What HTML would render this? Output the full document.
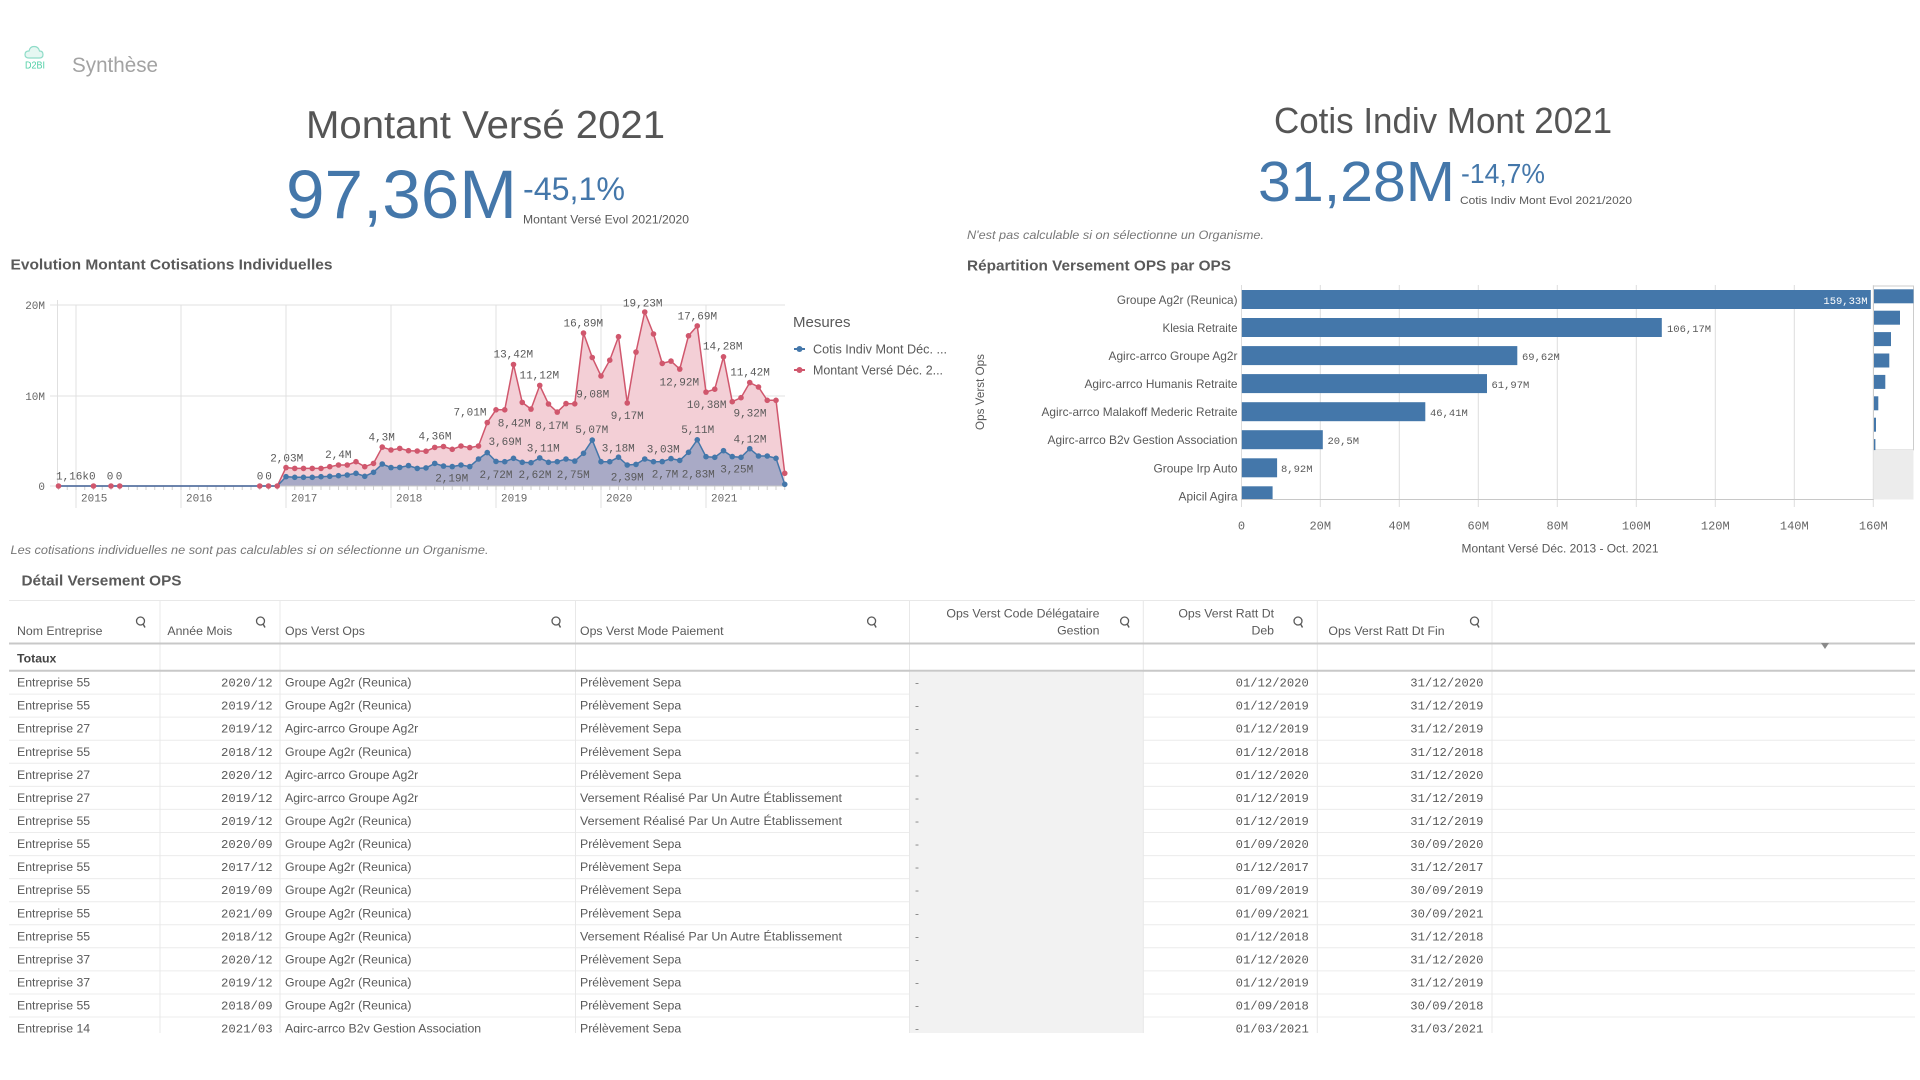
<!DOCTYPE html>
<html><head><meta charset="utf-8"><title>Synthèse</title><style>
html,body{margin:0;padding:0;background:#fff;width:1920px;height:1080px;overflow:hidden}
svg{display:block}
text{font-family:"Liberation Sans",sans-serif}
text.m,.m text{font-family:"Liberation Mono",monospace}
</style></head><body>
<svg width="1920" height="1080" viewBox="0 0 1920 1080" xmlns="http://www.w3.org/2000/svg">
<defs>
<marker id="rd" markerWidth="8" markerHeight="8" refX="4" refY="4" markerUnits="userSpaceOnUse"><circle cx="4" cy="4" r="2.8" fill="#d0576d"/></marker>
<marker id="bd" markerWidth="8" markerHeight="8" refX="4" refY="4" markerUnits="userSpaceOnUse"><circle cx="4" cy="4" r="2.8" fill="#4477aa"/></marker>
<pattern id="mt" x="58" y="0" width="8.75" height="1080" patternUnits="userSpaceOnUse"><rect x="0" y="0" width="1" height="1080" fill="#cfcfcf"/></pattern>
<clipPath id="tc"><rect x="0" y="595" width="1920" height="438"/></clipPath>
<g id="sq"><circle cx="0" cy="0" r="4" fill="none" stroke="#595959" stroke-width="1.3"/><line x1="2.6" y1="3" x2="4.5" y2="6.5" stroke="#595959" stroke-width="1.4"/></g>
</defs>

<!-- header -->
<path d="M29 58 q-4 0 -4 -3.5 q0 -3.5 4 -3.5 q1 -4.5 5 -4.5 q4.5 0 5.5 4.5 q3.5 0 3.5 3.5 q0 3.5 -3.5 3.5 z" fill="#e6f7f2" stroke="#8fdcc8" stroke-width="1.2"/>
<text x="25" y="68.5" font-size="10" fill="#4fcfa5" textLength="20" lengthAdjust="spacingAndGlyphs">D2BI</text>
<text x="72" y="72" font-size="21" fill="#a3a3a3" textLength="86" lengthAdjust="spacingAndGlyphs">Synthèse</text>

<!-- KPI left -->
<text x="306" y="138" font-size="39" fill="#555" textLength="359" lengthAdjust="spacingAndGlyphs">Montant Versé 2021</text>
<text x="286" y="218" font-size="69" fill="#4477aa" textLength="231" lengthAdjust="spacingAndGlyphs">97,36M</text>
<text x="523" y="200" font-size="32" fill="#4477aa" textLength="102" lengthAdjust="spacingAndGlyphs">-45,1%</text>
<text x="523" y="223.5" font-size="12" fill="#595959" textLength="166" lengthAdjust="spacingAndGlyphs">Montant Versé Evol 2021/2020</text>

<!-- KPI right -->
<text x="1274" y="133" font-size="36" fill="#555" textLength="338" lengthAdjust="spacingAndGlyphs">Cotis Indiv Mont 2021</text>
<text x="1258" y="201" font-size="57" fill="#4477aa" textLength="197" lengthAdjust="spacingAndGlyphs">31,28M</text>
<text x="1461" y="183" font-size="28" fill="#4477aa" textLength="84" lengthAdjust="spacingAndGlyphs">-14,7%</text>
<text x="1460" y="204" font-size="11" fill="#595959" textLength="172" lengthAdjust="spacingAndGlyphs">Cotis Indiv Mont Evol 2021/2020</text>
<text x="967" y="239" font-size="12" font-style="italic" fill="#777" textLength="297" lengthAdjust="spacingAndGlyphs">N'est pas calculable si on sélectionne un Organisme.</text>

<!-- chart titles -->
<text x="10.5" y="269.5" font-size="15" font-weight="bold" fill="#595959" textLength="322" lengthAdjust="spacingAndGlyphs">Evolution Montant Cotisations Individuelles</text>
<text x="967" y="270.5" font-size="15" font-weight="bold" fill="#595959" textLength="264" lengthAdjust="spacingAndGlyphs">Répartition Versement OPS par OPS</text>

<!-- ===== line chart ===== -->
<g stroke="#e0e0e0" stroke-width="1">
<line x1="57" y1="305" x2="785" y2="305"/>
<line x1="57" y1="396" x2="785" y2="396"/>
<line x1="76" y1="305" x2="76" y2="508"/>
<line x1="181" y1="305" x2="181" y2="508"/>
<line x1="286" y1="305" x2="286" y2="508"/>
<line x1="391" y1="305" x2="391" y2="508"/>
<line x1="496" y1="305" x2="496" y2="508"/>
<line x1="601" y1="305" x2="601" y2="508"/>
<line x1="706" y1="305" x2="706" y2="508"/>
<line x1="57.5" y1="300" x2="57.5" y2="486"/>
<line x1="50" y1="305" x2="57" y2="305"/>
<line x1="50" y1="396" x2="57" y2="396"/>
<line x1="50" y1="486" x2="57" y2="486"/>
</g>
<rect x="58" y="486" width="728" height="4" fill="url(#mt)"/>

<polygon fill="#f3cfd6" points="58.5,486 277.25,486 286,467.6 294.75,468.4 303.5,468.4 312.25,468.4 321,468.4 329.75,466.7 338.5,465 347.25,465 356,461.7 364.75,466.7 373.5,463.4 382.25,447.1 391,450 399.75,448.4 408.5,450.7 417.25,451 426,451.2 434.75,447.4 443.5,446.5 452.25,449.3 461,446 469.75,447.6 478.5,446 487.25,422.6 496,409.8 504.75,409.8 513.5,364.5 522.25,402.4 531,409.1 539.75,385.4 548.5,404 557.25,412.1 566,403.6 574.75,403.8 583.5,333.1 592.25,357.5 601,376 609.75,360.2 618.5,336.7 627.25,403 636,352.1 644.75,312 653.5,334 662.25,363.4 671,361.1 679.75,369.1 688.5,335.8 697.25,325.9 706,392.1 714.75,389.2 723.5,356.8 732.25,401.7 741,397.7 749.75,382.6 758.5,387 767.25,400.3 776,400.3 784.75,473.3 784.75,486"/>
<polygon fill="#a9aac6" points="277.25,486 286,476.7 294.75,477.3 303.5,477.3 312.25,477.3 321,476.7 329.75,476.3 338.5,475.7 347.25,475 356,473.3 364.75,476.3 373.5,472.3 382.25,464 391,467.6 399.75,467.4 408.5,465.6 417.25,468.4 426,467.9 434.75,463.4 443.5,466.1 452.25,466.6 461,465 469.75,466.6 478.5,459 487.25,452.6 496,461.4 504.75,461.7 513.5,458.3 522.25,462.3 531,462.7 539.75,457.9 548.5,462.3 557.25,461.7 566,459 574.75,461.1 583.5,453.3 592.25,440.1 601,461.7 609.75,461.7 618.5,457.2 627.25,465 636,464.4 644.75,459 653.5,461.7 662.25,461.6 671,458.6 679.75,460.4 688.5,452.3 697.25,439.8 706,456.7 714.75,457.3 723.5,450.7 732.25,456.6 741,457.3 749.75,448.7 758.5,456 767.25,456 776,458.3 784.75,484.3 784.75,486"/>
<line x1="57" y1="486" x2="785" y2="486" stroke="#c8c8c8" stroke-width="1"/>

<polyline fill="none" stroke="#d0576d" stroke-width="1.5" points="58.5,486 277.25,486 286,467.6 294.75,468.4 303.5,468.4 312.25,468.4 321,468.4 329.75,466.7 338.5,465 347.25,465 356,461.7 364.75,466.7 373.5,463.4 382.25,447.1 391,450 399.75,448.4 408.5,450.7 417.25,451 426,451.2 434.75,447.4 443.5,446.5 452.25,449.3 461,446 469.75,447.6 478.5,446 487.25,422.6 496,409.8 504.75,409.8 513.5,364.5 522.25,402.4 531,409.1 539.75,385.4 548.5,404 557.25,412.1 566,403.6 574.75,403.8 583.5,333.1 592.25,357.5 601,376 609.75,360.2 618.5,336.7 627.25,403 636,352.1 644.75,312 653.5,334 662.25,363.4 671,361.1 679.75,369.1 688.5,335.8 697.25,325.9 706,392.1 714.75,389.2 723.5,356.8 732.25,401.7 741,397.7 749.75,382.6 758.5,387 767.25,400.3 776,400.3 784.75,473.3"/>
<polyline fill="none" stroke="#4477aa" stroke-width="1.5" points="58.5,486 277.25,486 286,476.7 294.75,477.3 303.5,477.3 312.25,477.3 321,476.7 329.75,476.3 338.5,475.7 347.25,475 356,473.3 364.75,476.3 373.5,472.3 382.25,464 391,467.6 399.75,467.4 408.5,465.6 417.25,468.4 426,467.9 434.75,463.4 443.5,466.1 452.25,466.6 461,465 469.75,466.6 478.5,459 487.25,452.6 496,461.4 504.75,461.7 513.5,458.3 522.25,462.3 531,462.7 539.75,457.9 548.5,462.3 557.25,461.7 566,459 574.75,461.1 583.5,453.3 592.25,440.1 601,461.7 609.75,461.7 618.5,457.2 627.25,465 636,464.4 644.75,459 653.5,461.7 662.25,461.6 671,458.6 679.75,460.4 688.5,452.3 697.25,439.8 706,456.7 714.75,457.3 723.5,450.7 732.25,456.6 741,457.3 749.75,448.7 758.5,456 767.25,456 776,458.3 784.75,484.3"/>
<polyline fill="none" stroke="none" marker-start="url(#rd)" marker-mid="url(#rd)" marker-end="url(#rd)" points="58.5,486 93.5,486 111,486 119.75,486 259.75,486 268.5,486 277.25,486 286,467.6 294.75,468.4 303.5,468.4 312.25,468.4 321,468.4 329.75,466.7 338.5,465 347.25,465 356,461.7 364.75,466.7 373.5,463.4 382.25,447.1 391,450 399.75,448.4 408.5,450.7 417.25,451 426,451.2 434.75,447.4 443.5,446.5 452.25,449.3 461,446 469.75,447.6 478.5,446 487.25,422.6 496,409.8 504.75,409.8 513.5,364.5 522.25,402.4 531,409.1 539.75,385.4 548.5,404 557.25,412.1 566,403.6 574.75,403.8 583.5,333.1 592.25,357.5 601,376 609.75,360.2 618.5,336.7 627.25,403 636,352.1 644.75,312 653.5,334 662.25,363.4 671,361.1 679.75,369.1 688.5,335.8 697.25,325.9 706,392.1 714.75,389.2 723.5,356.8 732.25,401.7 741,397.7 749.75,382.6 758.5,387 767.25,400.3 776,400.3 784.75,473.3"/>
<polyline fill="none" stroke="none" marker-start="url(#bd)" marker-mid="url(#bd)" marker-end="url(#bd)" points="286,476.7 294.75,477.3 303.5,477.3 312.25,477.3 321,476.7 329.75,476.3 338.5,475.7 347.25,475 356,473.3 364.75,476.3 373.5,472.3 382.25,464 391,467.6 399.75,467.4 408.5,465.6 417.25,468.4 426,467.9 434.75,463.4 443.5,466.1 452.25,466.6 461,465 469.75,466.6 478.5,459 487.25,452.6 496,461.4 504.75,461.7 513.5,458.3 522.25,462.3 531,462.7 539.75,457.9 548.5,462.3 557.25,461.7 566,459 574.75,461.1 583.5,453.3 592.25,440.1 601,461.7 609.75,461.7 618.5,457.2 627.25,465 636,464.4 644.75,459 653.5,461.7 662.25,461.6 671,458.6 679.75,460.4 688.5,452.3 697.25,439.8 706,456.7 714.75,457.3 723.5,450.7 732.25,456.6 741,457.3 749.75,448.7 758.5,456 767.25,456 776,458.3 784.75,484.3"/>

<!-- axis labels -->
<g class="m" font-size="11" fill="#666" text-anchor="end">
<text x="45" y="309">20M</text>
<text x="45" y="400">10M</text>
<text x="45" y="490">0</text>
</g>
<g class="m" font-size="11" fill="#666">
<text x="81" y="501.5">2015</text>
<text x="186" y="501.5">2016</text>
<text x="291" y="501.5">2017</text>
<text x="396" y="501.5">2018</text>
<text x="501" y="501.5">2019</text>
<text x="606" y="501.5">2020</text>
<text x="711" y="501.5">2021</text>
</g>

<!-- data labels -->
<g class="m" font-size="11" fill="#595959" text-anchor="middle">
<text x="72.5" y="479.7">1,16k</text>
<text x="92.3" y="479.7">0</text>
<text x="110" y="479.7">0</text>
<text x="119" y="479.7">0</text>
<text x="260" y="479.7">0</text>
<text x="268.5" y="479.7">0</text>
<text x="286.7" y="461.3">2,03M</text>
<text x="338.3" y="458">2,4M</text>
<text x="381.7" y="440.7">4,3M</text>
<text x="435" y="439.7">4,36M</text>
<text x="470" y="415.7">7,01M</text>
<text x="513.3" y="357.3">13,42M</text>
<text x="539.3" y="378.3">11,12M</text>
<text x="514.3" y="426.3">8,42M</text>
<text x="551.7" y="429">8,17M</text>
<text x="505" y="445">3,69M</text>
<text x="543.3" y="451.7">3,11M</text>
<text x="583.3" y="326.3">16,89M</text>
<text x="592.7" y="397.3">9,08M</text>
<text x="591.7" y="433">5,07M</text>
<text x="642.7" y="306.3">19,23M</text>
<text x="697.3" y="319.7">17,69M</text>
<text x="722.7" y="349.7">14,28M</text>
<text x="750" y="375.7">11,42M</text>
<text x="679.3" y="385.7">12,92M</text>
<text x="706.7" y="408">10,38M</text>
<text x="750" y="416.3">9,32M</text>
<text x="627.3" y="419">9,17M</text>
<text x="618.3" y="451.3">3,18M</text>
<text x="663.3" y="452.3">3,03M</text>
<text x="697.7" y="433">5,11M</text>
<text x="750" y="442.3">4,12M</text>
<text x="451.7" y="481.7">2,19M</text>
<text x="496" y="478">2,72M</text>
<text x="535" y="478">2,62M</text>
<text x="573.3" y="478">2,75M</text>
<text x="627.3" y="480.7">2,39M</text>
<text x="665" y="477.3">2,7M</text>
<text x="698.3" y="477.3">2,83M</text>
<text x="736.7" y="472.3">3,25M</text>
</g>

<!-- legend -->
<text x="793" y="327" font-size="15" fill="#595959">Mesures</text>
<line x1="794" y1="349" x2="805" y2="349" stroke="#4477aa" stroke-width="2"/><circle cx="799.5" cy="349" r="3" fill="#4477aa"/>
<text x="813" y="353.5" font-size="12.5" fill="#595959" textLength="134" lengthAdjust="spacingAndGlyphs">Cotis Indiv Mont Déc. ...</text>
<line x1="794" y1="370" x2="805" y2="370" stroke="#d0576d" stroke-width="2"/><circle cx="799.5" cy="370" r="3" fill="#d0576d"/>
<text x="813" y="374.5" font-size="12.5" fill="#595959" textLength="130" lengthAdjust="spacingAndGlyphs">Montant Versé Déc. 2...</text>

<text x="10.5" y="554" font-size="12" font-style="italic" fill="#777" textLength="478" lengthAdjust="spacingAndGlyphs">Les cotisations individuelles ne sont pas calculables si on sélectionne un Organisme.</text>

<!-- ===== bar chart ===== -->
<g stroke="#dddddd" stroke-width="1">
<line x1="1241.5" y1="285" x2="1241.5" y2="507"/>
<line x1="1320.3" y1="285" x2="1320.3" y2="507"/>
<line x1="1399.3" y1="285" x2="1399.3" y2="507"/>
<line x1="1478.3" y1="285" x2="1478.3" y2="507"/>
<line x1="1557.3" y1="285" x2="1557.3" y2="507"/>
<line x1="1636.3" y1="285" x2="1636.3" y2="507"/>
<line x1="1715.3" y1="285" x2="1715.3" y2="507"/>
<line x1="1794.3" y1="285" x2="1794.3" y2="507"/>
<line x1="1873.3" y1="285" x2="1873.3" y2="507"/>
</g>
<g fill="#4477aa">
<rect x="1241.8" y="290" width="629" height="19"/>
<rect x="1241.8" y="318" width="420" height="19"/>
<rect x="1241.8" y="346.1" width="275.5" height="19"/>
<rect x="1241.8" y="374.1" width="245.2" height="19"/>
<rect x="1241.8" y="402.2" width="183.5" height="19"/>
<rect x="1241.8" y="430.2" width="81" height="19"/>
<rect x="1241.8" y="458.3" width="35.3" height="19"/>
<rect x="1241.8" y="486.3" width="30.8" height="13"/>
</g>
<line x1="1241" y1="499.5" x2="1874" y2="499.5" stroke="#c8c8c8"/>
<g font-size="12" fill="#595959" text-anchor="end">
<text x="1237.5" y="304" textLength="120.6" lengthAdjust="spacingAndGlyphs">Groupe Ag2r (Reunica)</text>
<text x="1237.5" y="332" textLength="75" lengthAdjust="spacingAndGlyphs">Klesia Retraite</text>
<text x="1237.5" y="360.1" textLength="129" lengthAdjust="spacingAndGlyphs">Agirc-arrco Groupe Ag2r</text>
<text x="1237.5" y="388.1" textLength="153" lengthAdjust="spacingAndGlyphs">Agirc-arrco Humanis Retraite</text>
<text x="1237.5" y="416.2" textLength="196" lengthAdjust="spacingAndGlyphs">Agirc-arrco Malakoff Mederic Retraite</text>
<text x="1237.5" y="444.2" textLength="190" lengthAdjust="spacingAndGlyphs">Agirc-arrco B2v Gestion Association</text>
<text x="1237.5" y="472.3" textLength="84" lengthAdjust="spacingAndGlyphs">Groupe Irp Auto</text>
<text x="1237.5" y="500.3" textLength="59" lengthAdjust="spacingAndGlyphs">Apicil Agira</text>
</g>
<text class="m" x="1867.5" y="303.8" font-size="10.5" fill="#ffffff" text-anchor="end">159,33M</text>
<g class="m" font-size="10.5" fill="#595959">
<text x="1667" y="331.8">106,17M</text>
<text x="1522" y="359.9">69,62M</text>
<text x="1491.5" y="387.9">61,97M</text>
<text x="1430" y="416">46,41M</text>
<text x="1327.5" y="444">20,5M</text>
<text x="1281" y="472.1">8,92M</text>
</g>
<g class="m" font-size="12" fill="#666" text-anchor="middle">
<text x="1241.5" y="529.5">0</text>
<text x="1320.3" y="529.5">20M</text>
<text x="1399.3" y="529.5">40M</text>
<text x="1478.3" y="529.5">60M</text>
<text x="1557.3" y="529.5">80M</text>
<text x="1636.3" y="529.5">100M</text>
<text x="1715.3" y="529.5">120M</text>
<text x="1794.3" y="529.5">140M</text>
<text x="1873.3" y="529.5">160M</text>
</g>
<text x="1560" y="552.5" font-size="12" fill="#595959" text-anchor="middle" textLength="197" lengthAdjust="spacingAndGlyphs">Montant Versé Déc. 2013 - Oct. 2021</text>
<text transform="translate(984,392) rotate(-90)" font-size="12" fill="#595959" text-anchor="middle" textLength="76" lengthAdjust="spacingAndGlyphs">Ops Verst Ops</text>

<!-- mini scrollbar -->
<rect x="1873.5" y="286" width="40" height="164" fill="#fff" stroke="#cccccc"/>
<rect x="1873.5" y="450" width="40" height="49.5" fill="#ececec"/>
<g fill="#4477aa">
<rect x="1874" y="289.3" width="39.5" height="14"/>
<rect x="1874" y="310.7" width="26" height="14"/>
<rect x="1874" y="332.1" width="17" height="14"/>
<rect x="1874" y="353.5" width="15.3" height="14"/>
<rect x="1874" y="374.9" width="11.3" height="14"/>
<rect x="1874" y="396.3" width="4.3" height="14"/>
<rect x="1874" y="417.7" width="2" height="14"/>
<rect x="1874" y="439.1" width="1.4" height="11"/>
</g>

<!-- ===== table ===== -->
<text x="21.5" y="585.5" font-size="15" font-weight="bold" fill="#595959" textLength="160" lengthAdjust="spacingAndGlyphs">Détail Versement OPS</text>
<g clip-path="url(#tc)">
<line x1="9" y1="600.5" x2="1915" y2="600.5" stroke="#e8e8e8"/>
<g stroke="#ececec" stroke-width="1">
<line x1="9" y1="694.1" x2="1915" y2="694.1"/>
<line x1="9" y1="717.1" x2="1915" y2="717.1"/>
<line x1="9" y1="740.2" x2="1915" y2="740.2"/>
<line x1="9" y1="763.3" x2="1915" y2="763.3"/>
<line x1="9" y1="786.4" x2="1915" y2="786.4"/>
<line x1="9" y1="809.4" x2="1915" y2="809.4"/>
<line x1="9" y1="832.5" x2="1915" y2="832.5"/>
<line x1="9" y1="855.6" x2="1915" y2="855.6"/>
<line x1="9" y1="878.6" x2="1915" y2="878.6"/>
<line x1="9" y1="901.7" x2="1915" y2="901.7"/>
<line x1="9" y1="924.8" x2="1915" y2="924.8"/>
<line x1="9" y1="947.8" x2="1915" y2="947.8"/>
<line x1="9" y1="970.9" x2="1915" y2="970.9"/>
<line x1="9" y1="994" x2="1915" y2="994"/>
<line x1="9" y1="1017" x2="1915" y2="1017"/>
</g>
<rect x="909.5" y="672" width="233.8" height="361" fill="#f2f2f2"/>
<g stroke="#e8e8e8" stroke-width="1">
<line x1="160" y1="600" x2="160" y2="1033"/>
<line x1="280" y1="600" x2="280" y2="1033"/>
<line x1="575.5" y1="600" x2="575.5" y2="1033"/>
<line x1="909.5" y1="600" x2="909.5" y2="1033"/>
<line x1="1143.3" y1="600" x2="1143.3" y2="1033"/>
<line x1="1317.3" y1="600" x2="1317.3" y2="1033"/>
<line x1="1492" y1="600" x2="1492" y2="1033"/>
</g>
<line x1="9" y1="643.5" x2="1915" y2="643.5" stroke="#c8c8c8" stroke-width="2"/>
<line x1="9" y1="670.7" x2="1915" y2="670.7" stroke="#c8c8c8" stroke-width="2"/>

<!-- header -->
<g font-size="12.3" fill="#595959">
<text x="17" y="635">Nom Entreprise</text>
<text x="167.4" y="635">Année Mois</text>
<text x="285" y="635">Ops Verst Ops</text>
<text x="580" y="635">Ops Verst Mode Paiement</text>
<text x="1099.5" y="617.5" text-anchor="end">Ops Verst Code Délégataire</text>
<text x="1099.5" y="634.5" text-anchor="end">Gestion</text>
<text x="1274" y="617.5" text-anchor="end">Ops Verst Ratt Dt</text>
<text x="1274" y="634.5" text-anchor="end">Deb</text>
<text x="1328.4" y="635">Ops Verst Ratt Dt Fin</text>
</g>
<use href="#sq" x="140.5" y="621"/>
<use href="#sq" x="260.5" y="621"/>
<use href="#sq" x="556" y="621"/>
<use href="#sq" x="871.6" y="621"/>
<use href="#sq" x="1124.6" y="621"/>
<use href="#sq" x="1298" y="621"/>
<use href="#sq" x="1474.5" y="621"/>
<polygon points="1821,643 1829,643 1825,649" fill="#8a8a8a"/>
<text x="17" y="662.5" font-size="12.3" font-weight="bold" fill="#444">Totaux</text>

<!-- rows col1 -->
<g font-size="12.3" fill="#595959">
<text x="17" y="686.6">Entreprise 55</text>
<text x="17" y="709.7">Entreprise 55</text>
<text x="17" y="732.7">Entreprise 27</text>
<text x="17" y="755.8">Entreprise 55</text>
<text x="17" y="778.9">Entreprise 27</text>
<text x="17" y="802">Entreprise 27</text>
<text x="17" y="825">Entreprise 55</text>
<text x="17" y="848.1">Entreprise 55</text>
<text x="17" y="871.2">Entreprise 55</text>
<text x="17" y="894.2">Entreprise 55</text>
<text x="17" y="917.3">Entreprise 55</text>
<text x="17" y="940.4">Entreprise 55</text>
<text x="17" y="963.4">Entreprise 37</text>
<text x="17" y="986.5">Entreprise 37</text>
<text x="17" y="1009.6">Entreprise 55</text>
<text x="17" y="1032.7">Entreprise 14</text>
</g>
<!-- col2 -->
<g class="m" font-size="12.3" fill="#595959" text-anchor="end">
<text x="272.6" y="686.6">2020/12</text>
<text x="272.6" y="709.7">2019/12</text>
<text x="272.6" y="732.7">2019/12</text>
<text x="272.6" y="755.8">2018/12</text>
<text x="272.6" y="778.9">2020/12</text>
<text x="272.6" y="802">2019/12</text>
<text x="272.6" y="825">2019/12</text>
<text x="272.6" y="848.1">2020/09</text>
<text x="272.6" y="871.2">2017/12</text>
<text x="272.6" y="894.2">2019/09</text>
<text x="272.6" y="917.3">2021/09</text>
<text x="272.6" y="940.4">2018/12</text>
<text x="272.6" y="963.4">2020/12</text>
<text x="272.6" y="986.5">2019/12</text>
<text x="272.6" y="1009.6">2018/09</text>
<text x="272.6" y="1032.7">2021/03</text>
</g>
<!-- col3 -->
<g font-size="12.3" fill="#595959">
<text x="285" y="686.6">Groupe Ag2r (Reunica)</text>
<text x="285" y="709.7">Groupe Ag2r (Reunica)</text>
<text x="285" y="732.7">Agirc-arrco Groupe Ag2r</text>
<text x="285" y="755.8">Groupe Ag2r (Reunica)</text>
<text x="285" y="778.9">Agirc-arrco Groupe Ag2r</text>
<text x="285" y="802">Agirc-arrco Groupe Ag2r</text>
<text x="285" y="825">Groupe Ag2r (Reunica)</text>
<text x="285" y="848.1">Groupe Ag2r (Reunica)</text>
<text x="285" y="871.2">Groupe Ag2r (Reunica)</text>
<text x="285" y="894.2">Groupe Ag2r (Reunica)</text>
<text x="285" y="917.3">Groupe Ag2r (Reunica)</text>
<text x="285" y="940.4">Groupe Ag2r (Reunica)</text>
<text x="285" y="963.4">Groupe Ag2r (Reunica)</text>
<text x="285" y="986.5">Groupe Ag2r (Reunica)</text>
<text x="285" y="1009.6">Groupe Ag2r (Reunica)</text>
<text x="285" y="1032.7">Agirc-arrco B2v Gestion Association</text>
</g>
<!-- col4 -->
<g font-size="12.3" fill="#595959">
<text x="580" y="686.6">Prélèvement Sepa</text>
<text x="580" y="709.7">Prélèvement Sepa</text>
<text x="580" y="732.7">Prélèvement Sepa</text>
<text x="580" y="755.8">Prélèvement Sepa</text>
<text x="580" y="778.9">Prélèvement Sepa</text>
<text x="580" y="802" textLength="262" lengthAdjust="spacingAndGlyphs">Versement Réalisé Par Un Autre Établissement</text>
<text x="580" y="825" textLength="262" lengthAdjust="spacingAndGlyphs">Versement Réalisé Par Un Autre Établissement</text>
<text x="580" y="848.1">Prélèvement Sepa</text>
<text x="580" y="871.2">Prélèvement Sepa</text>
<text x="580" y="894.2">Prélèvement Sepa</text>
<text x="580" y="917.3">Prélèvement Sepa</text>
<text x="580" y="940.4" textLength="262" lengthAdjust="spacingAndGlyphs">Versement Réalisé Par Un Autre Établissement</text>
<text x="580" y="963.4">Prélèvement Sepa</text>
<text x="580" y="986.5">Prélèvement Sepa</text>
<text x="580" y="1009.6">Prélèvement Sepa</text>
<text x="580" y="1032.7">Prélèvement Sepa</text>
</g>
<!-- col5 -->
<g font-size="12" fill="#888">
<text x="915" y="686.6">-</text>
<text x="915" y="709.7">-</text>
<text x="915" y="732.7">-</text>
<text x="915" y="755.8">-</text>
<text x="915" y="778.9">-</text>
<text x="915" y="802">-</text>
<text x="915" y="825">-</text>
<text x="915" y="848.1">-</text>
<text x="915" y="871.2">-</text>
<text x="915" y="894.2">-</text>
<text x="915" y="917.3">-</text>
<text x="915" y="940.4">-</text>
<text x="915" y="963.4">-</text>
<text x="915" y="986.5">-</text>
<text x="915" y="1009.6">-</text>
<text x="915" y="1032.7">-</text>
</g>
<!-- col6 -->
<g class="m" font-size="12.2" fill="#595959" text-anchor="end">
<text x="1308.8" y="686.6">01/12/2020</text>
<text x="1308.8" y="709.7">01/12/2019</text>
<text x="1308.8" y="732.7">01/12/2019</text>
<text x="1308.8" y="755.8">01/12/2018</text>
<text x="1308.8" y="778.9">01/12/2020</text>
<text x="1308.8" y="802">01/12/2019</text>
<text x="1308.8" y="825">01/12/2019</text>
<text x="1308.8" y="848.1">01/09/2020</text>
<text x="1308.8" y="871.2">01/12/2017</text>
<text x="1308.8" y="894.2">01/09/2019</text>
<text x="1308.8" y="917.3">01/09/2021</text>
<text x="1308.8" y="940.4">01/12/2018</text>
<text x="1308.8" y="963.4">01/12/2020</text>
<text x="1308.8" y="986.5">01/12/2019</text>
<text x="1308.8" y="1009.6">01/09/2018</text>
<text x="1308.8" y="1032.7">01/03/2021</text>
</g>
<!-- col7 -->
<g class="m" font-size="12.2" fill="#595959" text-anchor="end">
<text x="1483.4" y="686.6">31/12/2020</text>
<text x="1483.4" y="709.7">31/12/2019</text>
<text x="1483.4" y="732.7">31/12/2019</text>
<text x="1483.4" y="755.8">31/12/2018</text>
<text x="1483.4" y="778.9">31/12/2020</text>
<text x="1483.4" y="802">31/12/2019</text>
<text x="1483.4" y="825">31/12/2019</text>
<text x="1483.4" y="848.1">30/09/2020</text>
<text x="1483.4" y="871.2">31/12/2017</text>
<text x="1483.4" y="894.2">30/09/2019</text>
<text x="1483.4" y="917.3">30/09/2021</text>
<text x="1483.4" y="940.4">31/12/2018</text>
<text x="1483.4" y="963.4">31/12/2020</text>
<text x="1483.4" y="986.5">31/12/2019</text>
<text x="1483.4" y="1009.6">30/09/2018</text>
<text x="1483.4" y="1032.7">31/03/2021</text>
</g>
</g>
</svg>
</body></html>
